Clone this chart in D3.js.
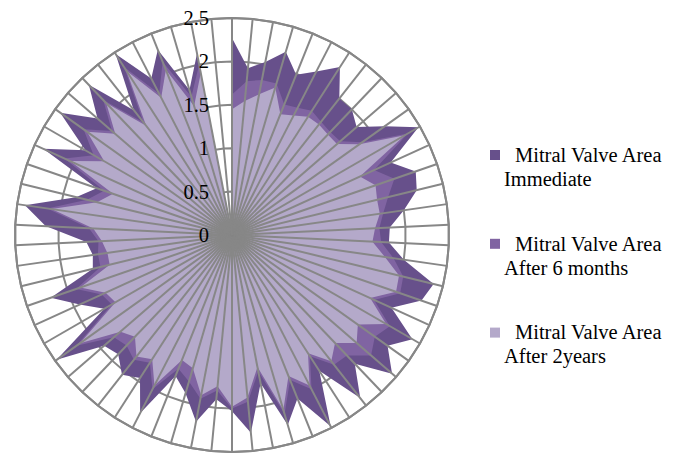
<!DOCTYPE html>
<html>
<head>
<meta charset="utf-8">
<script src="https://cdn.jsdelivr.net/npm/d3@7"></script>
<style>
  body { margin: 0; background: #fff; }
  svg { display: block; }
</style>
</head>
<body>
<svg id="chart" width="674" height="454"></svg>
<script>
// Mitral valve area per patient (cm²), one spoke per patient
const immediate = [
  2.27, 1.93, 2.03, 2.20, 1.99, 2.12, 2.30, 2.00, 2.00, 1.90, 2.16,
  2.48, 2.01, 2.24, 2.19, 2.00, 1.82, 1.81, 2.00, 2.39, 2.31, 2.02,
  2.40, 2.20, 2.44, 2.05, 2.39, 1.86, 2.48, 2.03, 2.28, 1.74, 2.29,
  2.03, 1.90, 2.19, 1.90, 1.75, 2.31, 1.96, 2.05, 1.90, 1.95, 2.48,
  1.70, 1.93, 2.21, 1.65, 1.62, 1.68, 2.15, 2.41, 1.85, 1.65, 2.39,
  1.95, 2.43, 2.05, 2.39, 1.83, 2.48, 2.03, 2.30, 1.74, 2.13, 0
];
const after6Months = [
  1.62, 1.78, 1.82, 1.82, 1.62, 1.65, 1.70, 1.66, 1.64, 1.65, 1.84,
  2.34, 1.80, 1.98, 1.85, 1.76, 1.70, 1.72, 1.88, 2.03, 2.05, 1.80,
  2.10, 2.02, 2.12, 1.92, 1.90, 1.66, 2.00, 1.80, 2.15, 1.60, 1.93,
  2.00, 1.80, 1.92, 1.76, 1.66, 2.00, 1.75, 1.83, 1.76, 1.80, 2.20,
  1.60, 1.65, 1.90, 1.56, 1.56, 1.54, 1.65, 2.15, 1.72, 1.56, 2.12,
  1.84, 2.10, 1.83, 2.15, 1.65, 2.30, 1.83, 2.15, 1.66, 2.00, 0
];
const after2Years = [
  1.45, 1.55, 1.65, 1.77, 1.50, 1.55, 1.62, 1.62, 1.60, 1.60, 1.80,
  2.30, 1.62, 1.75, 1.72, 1.72, 1.65, 1.62, 1.78, 1.98, 2.00, 1.75,
  2.05, 1.78, 1.90, 1.72, 1.85, 1.62, 1.95, 1.75, 2.10, 1.55, 1.88,
  1.98, 1.75, 1.88, 1.60, 1.55, 1.95, 1.70, 1.78, 1.62, 1.70, 2.15,
  1.55, 1.60, 1.85, 1.45, 1.45, 1.50, 1.60, 2.10, 1.60, 1.45, 2.05,
  1.70, 2.05, 1.78, 2.10, 1.60, 2.25, 1.78, 2.05, 1.55, 1.90, 0
];
const seriesNames = [
  ["Mitral Valve Area", "Immediate"],
  ["Mitral Valve Area", "After 6 months"],
  ["Mitral Valve Area", "After 2years"]
];
const seriesColors = ["#67508b", "#8064a2", "#b4a9ca"];
const tickValues = [0, 0.5, 1, 1.5, 2, 2.5];
const tickLabels = ["0", "0.5", "1", "1.5", "2", "2.5"];

const svg = d3.select("#chart");
const cx = 232, cy = 235, R = 217;
const n = immediate.length;
const gridColor = "#878787";

const angle = d3.scaleLinear().domain([0, n]).range([0, 2 * Math.PI]);
const radius = d3.scaleLinear().domain([0, 2.5]).range([0, R]);
const spokes = d3.range(n);

const plot = svg.append("g").attr("transform", `translate(${cx},${cy})`);

// concentric grid polygons
const ring = d3.lineRadial()
  .angle(i => angle(i))
  .curve(d3.curveLinearClosed);
plot.append("g").selectAll("path")
  .data(tickValues.slice(1))
  .join("path")
  .attr("d", t => ring.radius(radius(t))(spokes))
  .attr("fill", "none")
  .attr("stroke", gridColor)
  .attr("stroke-width", 2);

// filled series, earliest measurement at the back
const area = d3.lineRadial()
  .angle((d, i) => angle(i))
  .radius(d => radius(d))
  .curve(d3.curveLinearClosed);
plot.append("g").selectAll("path")
  .data([immediate, after6Months, after2Years])
  .join("path")
  .attr("d", d => area(d))
  .attr("fill", (d, i) => seriesColors[i]);

// category spokes on top of the fills
plot.append("g").selectAll("line")
  .data(spokes)
  .join("line")
  .attr("x1", 0).attr("y1", 0)
  .attr("x2", i => radius(2.5) * Math.sin(angle(i)))
  .attr("y2", i => -radius(2.5) * Math.cos(angle(i)))
  .attr("stroke", gridColor)
  .attr("stroke-width", 2);

// outer ring stays crisp above everything
plot.append("path")
  .attr("d", ring.radius(radius(2.5))(spokes))
  .attr("fill", "none")
  .attr("stroke", gridColor)
  .attr("stroke-width", 2);

// value axis labels along the top spoke
plot.append("g").selectAll("text")
  .data(tickValues)
  .join("text")
  .attr("x", -23)
  .attr("y", t => -radius(t))
  .attr("dy", "0.34em")
  .attr("text-anchor", "end")
  .attr("font-family", "'Liberation Serif', 'Times New Roman', serif")
  .attr("font-size", 20.5)
  .attr("fill", "#000")
  .text((t, i) => tickLabels[i]);

// legend
const legend = svg.append("g").attr("transform", "translate(490,0)");
const rowY = d3.scaleLinear().domain([0, 1]).range([161.7, 250.5]);
seriesNames.forEach((lines, i) => {
  const base = rowY(i);
  legend.append("rect")
    .attr("x", 0).attr("y", base - 11.7)
    .attr("width", 10).attr("height", 10)
    .attr("fill", seriesColors[i]);
  const t = legend.append("text")
    .attr("font-family", "'Liberation Serif', 'Times New Roman', serif")
    .attr("font-size", 20.5)
    .attr("fill", "#000");
  t.append("tspan").attr("x", 25).attr("y", base).text(lines[0]);
  t.append("tspan").attr("x", 14).attr("y", base + 24).text(lines[1]);
});
</script>
</body>
</html>
